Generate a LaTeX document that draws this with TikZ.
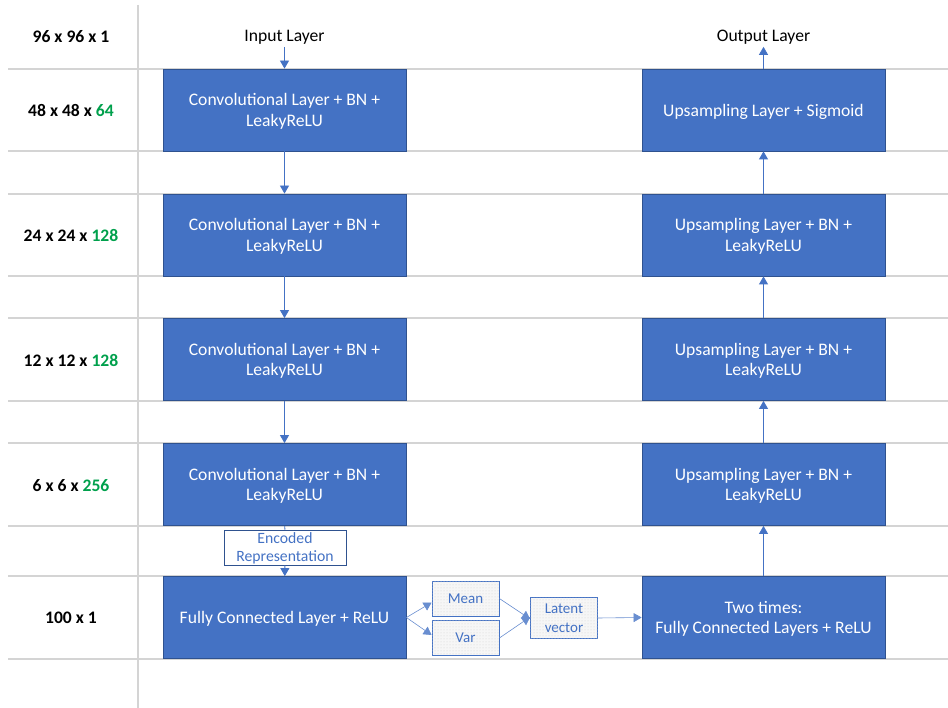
\documentclass[tikz,border=0pt]{standalone}
\usepackage{fontspec}
\setmainfont{Carlito}
\usetikzlibrary{arrows.meta,patterns,positioning}

\definecolor{boxblue}{HTML}{4472C4}
\definecolor{boxedge}{HTML}{2F528F}
\definecolor{gridgray}{HTML}{D4D4D4}
\definecolor{dimgreen}{HTML}{00A04C}

\tikzset{
  gridline/.style={draw=gridgray, line width=1.4pt},
  layer/.style={draw=boxedge, fill=boxblue, line width=0.8pt, text=white,
    minimum width=243pt, minimum height=82pt, inner sep=0pt, align=center,
    text depth=-3pt,
    font=\fontsize{17.6}{20.5}\selectfont},
  dimlabel/.style={font=\fontsize{17.6}{20.5}\selectfont\bfseries},
  caption/.style={font=\fontsize{17.6}{20.5}\selectfont, inner sep=2pt},
  encbox/.style={draw=boxedge, fill=white, line width=0.7pt, text=boxblue,
    minimum width=122pt, minimum height=35pt, inner sep=0pt, align=center,
    text depth=-2pt,
    font=\fontsize{15.7}{18}\selectfont},
  statbox/.style={draw=boxblue, line width=0.8pt, fill=gray!7,
    postaction={pattern=dots, pattern color=gray!35},
    text=boxblue, inner sep=0pt, align=center, text depth=-1pt,
    font=\fontsize{15}{19}\selectfont},
  flow/.style={draw=boxblue, line width=0.8pt,
    -{Triangle[width=9pt,length=8pt]}},
  thinflow/.style={draw=boxblue!80, line width=0.6pt,
    -{Triangle[width=9pt,length=8pt]}},
}

\begin{document}
\begin{tikzpicture}[x=1pt, y=-1pt]
  \useasboundingbox (0,0) rectangle (948,708);

  % table rules
  \draw[gridline] (138,5) -- (138,708);
  \foreach \yy in {69,151,194,276,318,401,443,526,576,659}
    \draw[gridline] (8,\yy) -- (948,\yy);

  % feature-map sizes
  \node[dimlabel] (d0) at (71,36.5)  {96 x 96 x 1};
  \node[dimlabel] (d1) at (71,110.5) {48 x 48 x \textcolor{dimgreen}{64}};
  \node[dimlabel] (d2) at (71,235.5) {24 x 24 x \textcolor{dimgreen}{128}};
  \node[dimlabel] (d3) at (71,360.5) {12 x 12 x \textcolor{dimgreen}{128}};
  \node[dimlabel] (d4) at (71,485.5) {6 x 6 x \textcolor{dimgreen}{256}};
  \node[dimlabel] (d5) at (71,617.5) {100 x 1};

  % encoder
  \node[caption] (inp) at (284.5,37.5) {Input Layer};
  \node[layer] (c1) at (284.5,110)   {Convolutional Layer + BN +\\LeakyReLU};
  \node[layer] (c2) at (284.5,235)   {Convolutional Layer + BN +\\LeakyReLU};
  \node[layer] (c3) at (284.5,359.5) {Convolutional Layer + BN +\\LeakyReLU};
  \node[layer] (c4) at (284.5,484.5) {Convolutional Layer + BN +\\LeakyReLU};
  \node[encbox] (enc) at (285,547.5) {Encoded\\Representation};
  \node[layer] (fc) at (284.5,617.5) {Fully Connected Layer + ReLU};

  % latent sampling
  \node[statbox, minimum width=67pt, minimum height=35pt] (mean) at (465.5,598.5) {Mean};
  \node[statbox, minimum width=67pt, minimum height=35pt] (var)  at (465.5,638)   {Var};
  \node[statbox, minimum width=67pt, minimum height=41pt] (lat)  at (564,618)     {Latent\\vector};

  % decoder
  \node[layer] (u5) at (763.5,617.5) {Two times:\\Fully Connected Layers + ReLU};
  \node[layer] (u4) at (763.5,484.5) {Upsampling Layer + BN +\\LeakyReLU};
  \node[layer] (u3) at (763.5,359.5) {Upsampling Layer + BN +\\LeakyReLU};
  \node[layer] (u2) at (763.5,235)   {Upsampling Layer + BN +\\LeakyReLU};
  \node[layer] (u1) at (763.5,110)   {Upsampling Layer + Sigmoid};
  \node[caption] (out) at (763.5,37.5) {Output Layer};

  % encoder flow
  \draw[flow] (inp) -- (c1);
  \draw[flow] (c1) -- (c2);
  \draw[flow] (c2) -- (c3);
  \draw[flow] (c3) -- (c4);
  \draw[draw=boxblue, line width=0.8pt] (c4) -- (enc);
  \draw[flow] (enc) -- (fc);

  % sampling flow
  \draw[thinflow] (fc.east) -- ([yshift=-4pt]mean.west);
  \draw[thinflow] (fc.east) -- ([yshift=3pt]var.west);
  \draw[thinflow] (mean.east) -- ([yshift=-1pt]lat.west);
  \draw[thinflow] (var.east) -- ([yshift=1pt]lat.west);
  \draw[thinflow] (lat.east) -- (u5.west);

  % decoder flow
  \draw[flow] (u5) -- (u4);
  \draw[flow] (u4) -- (u3);
  \draw[flow] (u3) -- (u2);
  \draw[flow] (u2) -- (u1);
  \draw[flow] (u1) -- (out);
\end{tikzpicture}
\end{document}
